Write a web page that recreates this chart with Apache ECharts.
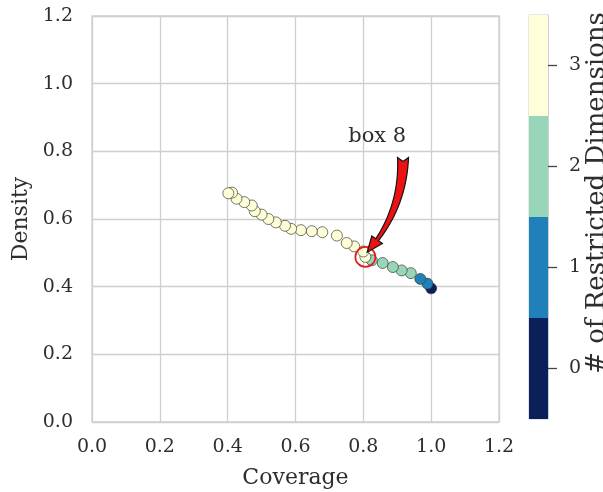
<!DOCTYPE html>
<html>
<head>
<meta charset="utf-8">
<script src="https://cdn.jsdelivr.net/npm/echarts@6/dist/echarts.min.js"></script>
<style>
  html, body { margin: 0; padding: 0; background: #fff; }
  #main { width: 603px; height: 492px; }
</style>
</head>
<body>
<div id="main"></div>
<script>
// boxes in peeling order (box 0 = whole space)
var coverage = [1.0, 0.989, 0.968, 0.940, 0.913, 0.887, 0.857, 0.825, 0.806, 0.800,
  0.773, 0.751, 0.722, 0.679, 0.648, 0.616, 0.587, 0.569, 0.542, 0.520,
  0.500, 0.480, 0.471, 0.449, 0.426, 0.413, 0.402];
var density = [0.395, 0.409, 0.423, 0.440, 0.448, 0.458, 0.470, 0.478, 0.488, 0.504,
  0.519, 0.529, 0.551, 0.561, 0.564, 0.567, 0.571, 0.580, 0.590, 0.600,
  0.613, 0.623, 0.640, 0.650, 0.660, 0.678, 0.676];
var restrictedDims = [0, 1, 1, 2, 2, 2, 2, 2, 3, 3,
  3, 3, 3, 3, 3, 3, 3, 3, 3, 3,
  3, 3, 3, 3, 3, 3, 3];
var dimLevels = ['0', '1', '2', '3'];
var dimColors = ['#0b1f5b', '#2080ba', '#98d5b9', '#fefed8'];
var axisTicks = [0, 0.2, 0.4, 0.6, 0.8, 1.0, 1.2];

// annotation
var boxIndex = 8;
var boxLabel = 'box ' + boxIndex;
var labelAt = [0.841, 0.845];
var arrowTail = [0.917, 0.782];

var serif = 'DejaVu Serif';
var textColor = '#2e2e2e';
var gridColor = '#cfcfcf';

var chart = echarts.init(document.getElementById('main'), null, { renderer: 'canvas' });

var points = coverage.map(function (c, i) {
  return [c, density[i], restrictedDims[i]];
});

var option = {
  animation: false,
  backgroundColor: '#fff',
  grid: [
    { left: 92, top: 16, width: 407, height: 406, show: true, borderColor: gridColor, borderWidth: 1.3,
      containLabel: false, outerBoundsMode: 'none' },
    { left: 529, top: 15, width: 19, height: 404, show: true, borderColor: gridColor, borderWidth: 1,
      containLabel: false, outerBoundsMode: 'none' }
  ],
  xAxis: [
    {
      gridIndex: 0, type: 'value', min: axisTicks[0], max: axisTicks[axisTicks.length - 1], interval: 0.2,
      name: 'Coverage', nameLocation: 'middle', nameGap: 45,
      nameTextStyle: { fontFamily: serif, fontSize: 22, color: textColor },
      axisLine: { show: false }, axisTick: { show: false },
      axisLabel: { margin: 16, fontFamily: serif, fontSize: 19, color: textColor,
        formatter: function (v) { return v.toFixed(1); } },
      splitLine: { lineStyle: { color: gridColor, width: 1.3 } }
    },
    { gridIndex: 1, type: 'value', min: 0, max: 1, show: false }
  ],
  yAxis: [
    {
      gridIndex: 0, type: 'value', min: axisTicks[0], max: axisTicks[axisTicks.length - 1], interval: 0.2,
      name: 'Density', nameLocation: 'middle', nameGap: 55,
      nameTextStyle: { fontFamily: serif, fontSize: 22, color: textColor },
      axisLine: { show: false }, axisTick: { show: false },
      axisLabel: { margin: 19, fontFamily: serif, fontSize: 19, color: textColor,
        formatter: function (v) { return v.toFixed(1); } },
      splitLine: { lineStyle: { color: gridColor, width: 1.3 } }
    },
    {
      gridIndex: 1, type: 'category', data: dimLevels, position: 'right', z: 10,
      axisLine: { show: true, onZero: false, lineStyle: { color: gridColor, width: 1 } },
      axisTick: { show: true, inside: false, alignWithLabel: true, length: 9, lineStyle: { color: '#444', width: 1.3 } },
      axisLabel: { margin: 21, fontFamily: serif, fontSize: 19, color: textColor },
      splitLine: { show: false }
    }
  ],
  visualMap: {
    show: false, type: 'piecewise', dimension: 2, seriesIndex: 0,
    pieces: dimLevels.map(function (d, i) { return { value: +d, color: dimColors[i] }; })
  },
  series: [
    {
      type: 'scatter', xAxisIndex: 0, yAxisIndex: 0,
      data: points, symbolSize: 11,
      itemStyle: { borderColor: '#3d3d33', borderWidth: 0.7, opacity: 1 },
      z: 3
    },
    {
      // red ring round the chosen box
      type: 'scatter', xAxisIndex: 0, yAxisIndex: 0,
      data: [[coverage[boxIndex], density[boxIndex]]], symbolSize: 20,
      itemStyle: { color: 'rgba(0,0,0,0)', borderColor: '#e31a1c', borderWidth: 1.7, opacity: 1 },
      z: 4
    },
    {
      // colorbar
      type: 'bar', xAxisIndex: 1, yAxisIndex: 1,
      barWidth: '100%', barCategoryGap: 0,
      data: dimLevels.map(function (d, i) { return { value: 1, itemStyle: { color: dimColors[i] } }; })
    }
  ],
  graphic: [
    {
      type: 'text', x: 597, y: 193, rotation: Math.PI / 2,
      style: { text: '# of Restricted Dimensions', fontFamily: serif, fontSize: 26, fill: textColor,
        align: 'center', verticalAlign: 'middle' }
    }
  ]
};

chart.setOption(option);

// fancy curved arrow from label to box, built in pixel space
function bez(p0, c, p2, t) {
  var u = 1 - t;
  return [u * u * p0[0] + 2 * u * t * c[0] + t * t * p2[0],
          u * u * p0[1] + 2 * u * t * c[1] + t * t * p2[1]];
}

function arrowPolygon(p0, p2, rad) {
  var dx = p2[0] - p0[0], dy = p2[1] - p0[1];
  var c = [(p0[0] + p2[0]) / 2 + rad * dy, (p0[1] + p2[1]) / 2 - rad * dx];
  var n = 60, pts = [], len = [0];
  for (var i = 0; i <= n; i++) {
    pts.push(bez(p0, c, p2, i / n));
    if (i > 0) len.push(len[i - 1] + Math.hypot(pts[i][0] - pts[i - 1][0], pts[i][1] - pts[i - 1][1]));
  }
  var total = len[n], headLen = 15, headHalf = 6.5;
  var left = [], right = [], k;
  for (k = 0; k <= n && len[k] <= total - headLen; k++) {
    var a = pts[Math.max(k - 1, 0)], b = pts[Math.min(k + 1, n)];
    var tx = b[0] - a[0], ty = b[1] - a[1], tl = Math.hypot(tx, ty);
    var nx = -ty / tl, ny = tx / tl;
    var f = len[k] / (total - headLen);
    var w = 5.5 * (1 - f) + 1.6 * f;
    left.push([pts[k][0] + nx * w, pts[k][1] + ny * w]);
    right.push([pts[k][0] - nx * w, pts[k][1] - ny * w]);
  }
  var base = pts[k - 1], prev = pts[k - 2];
  var hx = base[0] - prev[0], hy = base[1] - prev[1], hl = Math.hypot(hx, hy);
  var hnx = -hy / hl, hny = hx / hl;
  var tip = pts[n];
  var t0 = pts[1];
  var notch = [p0[0] + (t0[0] - p0[0]) * 4 / Math.hypot(t0[0] - p0[0], t0[1] - p0[1]),
               p0[1] + (t0[1] - p0[1]) * 4 / Math.hypot(t0[0] - p0[0], t0[1] - p0[1])];
  var poly = [notch].concat(left);
  poly.push([base[0] + hnx * headHalf, base[1] + hny * headHalf]);
  poly.push(tip);
  poly.push([base[0] - hnx * headHalf, base[1] - hny * headHalf]);
  poly = poly.concat(right.reverse());
  return poly;
}

var boxPx = chart.convertToPixel({ gridIndex: 0 }, [coverage[boxIndex], density[boxIndex]]);
var tailPx = chart.convertToPixel({ gridIndex: 0 }, arrowTail);
var labelPx = chart.convertToPixel({ gridIndex: 0 }, labelAt);
// stop the head a little short of the box centre
var vx = tailPx[0] - boxPx[0], vy = tailPx[1] - boxPx[1], vl = Math.hypot(vx, vy);
var tipPx = [boxPx[0] + vx / vl * 5, boxPx[1] + vy / vl * 5];

chart.setOption({
  graphic: [
    option.graphic[0],
    {
      type: 'polygon', z: 100,
      shape: { points: arrowPolygon(tailPx, tipPx, 0.19) },
      style: { fill: '#ee1111', stroke: '#141414', lineWidth: 1.2 }
    },
    {
      type: 'text', z: 100, x: labelPx[0], y: labelPx[1],
      style: { text: boxLabel, fontFamily: serif, fontSize: 21, fill: textColor,
        align: 'center', verticalAlign: 'middle' }
    }
  ]
});
</script>
</body>
</html>
